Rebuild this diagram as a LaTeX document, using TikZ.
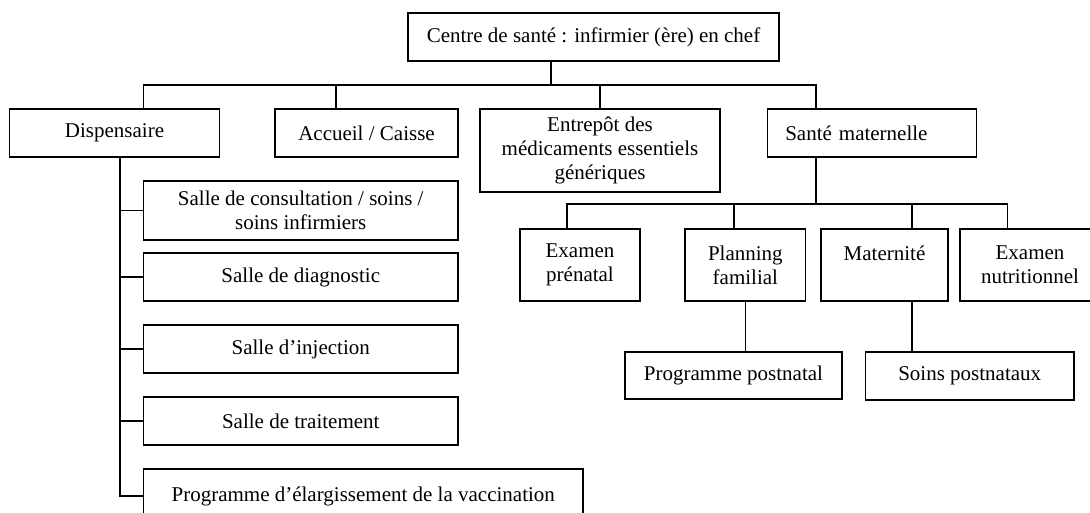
\documentclass[tikz,border=0pt]{standalone}
\usepackage{fontspec}
\setmainfont{Liberation Serif}
\begin{document}
\begin{tikzpicture}[x=1pt,y=-1pt,
  unit/.style={draw, line width=1.4pt, inner sep=0pt, align=center,
    font=\fontsize{21}{24}\selectfont},
  link/.style={line width=1.4pt}]
\useasboundingbox (0,0) rectangle (1090,512);
\fill[white] (0,0) rectangle (1090,512);
\clip (0,0) rectangle (1090,512);

% top level
\node[unit, minimum width=371pt, minimum height=48pt] (top) at (593.5,37)
  {Centre de santé : infirmier (ère) en chef};

% second level
\node[unit, minimum width=210pt, minimum height=48pt] (disp) at (114.5,133) {Dispensaire};
\node[unit, minimum width=183pt, minimum height=48pt] (acc) at (366.5,133) {Accueil / Caisse};
\node[unit, minimum width=240pt, minimum height=83pt] (ent) at (600,150.5)
  {Entrepôt des\\médicaments essentiels\\génériques};
\node[unit, minimum height=48pt, text width=173.5pt, inner xsep=17.5pt, align=left]
  (sm) at (872,133) {Santé maternelle};

% dispensary rooms
\node[unit, minimum width=314.5pt, minimum height=59pt] (c1) at (300.75,210.5)
  {Salle de consultation / soins /\\soins infirmiers};
\node[unit, minimum width=314.5pt, minimum height=48pt] (c2) at (300.75,277) {Salle de diagnostic};
\node[unit, minimum width=314.5pt, minimum height=48pt] (c3) at (300.75,349) {Salle d’injection};
\node[unit, minimum width=314.5pt, minimum height=48pt] (c4) at (300.75,421) {Salle de traitement};
\node[unit, minimum width=439.5pt, minimum height=54pt] (pev) at (363.25,496)
  {Programme d’élargissement de la vaccination};

% maternal health services
\node[unit, minimum width=120pt, minimum height=72pt] (ep) at (580,265) {Examen\\prénatal};
\node[unit, minimum width=120.7pt, minimum height=72pt] (pf) at (745.35,265) {Planning\\familial};
\node[unit, minimum width=127pt, minimum height=72pt] (mat) at (884.5,265) {Maternité\\\mbox{}};
\node[unit, minimum width=140pt, minimum height=72pt] (en) at (1030,265) {Examen\\nutritionnel};
\node[unit, minimum width=217pt, minimum height=47pt] (pp) at (733.5,375.5) {Programme postnatal};
\node[unit, minimum width=208.5pt, minimum height=48pt] (snp) at (969.75,376) {Soins postnataux};

% junction points
\coordinate (b0) at (551,85);
\coordinate (bL) at (143.5,85);
\coordinate (bA) at (336,85);
\coordinate (bE) at (600,85);
\coordinate (bR) at (816,85);
\coordinate (sp) at (120,496);
\coordinate (mL) at (567,204);
\coordinate (mP) at (734,204);
\coordinate (m0) at (816,204);
\coordinate (mM) at (912,204);
\coordinate (mR) at (1007.5,204);

% first bus
\draw[link] (top.south -| b0) -- (b0);
\draw[link] (disp.north -| bL) -- (bL) -- (bR) -- (sm.north -| bR);
\draw[link] (bA) -- (acc.north -| bA);
\draw[link] (bE) -- (ent.north -| bE);

% dispensary spine
\draw[link] (disp.south -| sp) -- (sp) -- (pev.west |- sp);
\foreach \r in {c1,c2,c3,c4}
  \draw[link] (\r.west) -- (\r.west -| sp);

% maternal health bus
\draw[link] (sm.south -| m0) -- (m0);
\draw[link] (ep.north -| mL) -- (mL) -- (mR) -- (en.north -| mR);
\draw[link] (mP) -- (pf.north -| mP);
\draw[link] (mM) -- (mat.north -| mM);
\draw[link] (pf.south) -- (pf.south |- pp.north);
\draw[link] (mat.south -| mM) -- (snp.north -| mM);
\end{tikzpicture}
\end{document}
